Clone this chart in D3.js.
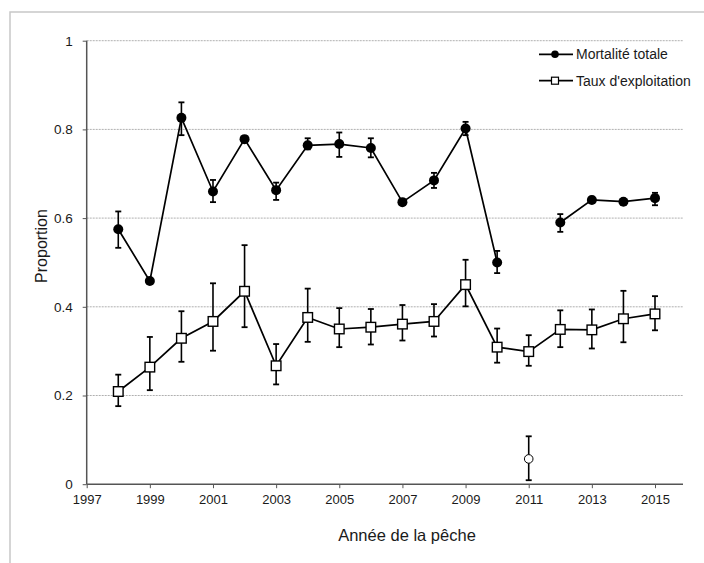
<!DOCTYPE html>
<html><head><meta charset="utf-8">
<script src="https://cdn.jsdelivr.net/npm/d3@7"></script>
<style>html,body{margin:0;padding:0;background:#fff;}svg{display:block;font-family:Arial,"Liberation Sans",sans-serif;}</style>
</head><body><svg id="c" width="704" height="563"></svg>
<script>
const years = [1998,1999,2000,2001,2002,2003,2004,2005,2006,2007,2008,2009,2010,2011,2012,2013,2014,2015];
const mortalite     = [0.575,0.458,0.826,0.660,0.778,0.663,0.764,0.767,0.758,0.636,0.685,0.802,0.500,null,0.590,0.641,0.637,0.645];
const mortaliteLow  = [0.533,0.452,0.787,0.636,0.772,0.641,0.755,0.738,0.737,0.630,0.668,0.787,0.476,null,0.569,0.635,0.632,0.629];
const mortaliteHigh = [0.615,0.464,0.861,0.686,0.784,0.680,0.780,0.793,0.780,0.642,0.702,0.817,0.526,null,0.609,0.648,0.641,0.657];
const exploitation     = [0.209,0.264,0.329,0.367,0.435,0.267,0.376,0.350,0.354,0.361,0.367,0.450,0.309,0.299,0.349,0.348,0.373,0.384];
const exploitationLow  = [0.176,0.212,0.276,0.301,0.354,0.225,0.321,0.309,0.315,0.324,0.333,0.401,0.274,0.267,0.309,0.306,0.320,0.347];
const exploitationHigh = [0.247,0.332,0.390,0.453,0.539,0.316,0.441,0.397,0.395,0.404,0.406,0.506,0.351,0.336,0.392,0.394,0.436,0.424];
const extraYear = [2011], extraValue = [0.057], extraLow = [0.009], extraHigh = [0.108];
const xTicks = [1997,1999,2001,2003,2005,2007,2009,2011,2013,2015];
const yTicks = [0,0.2,0.4,0.6,0.8,1];
const yTickLabels = ["0","0.2","0.4","0.6","0.8","1"];
const legendLabels = ["Mortalité totale","Taux d'exploitation"];

const svg = d3.select("#c");
const x = d3.scaleLinear().domain([1997, 2015]).range([86.7, 655]);
const y = d3.scaleLinear().domain([0, 1]).range([484.2, 40.7]);
const xEnd = 683;

// outer border
svg.append("rect").attr("x",10).attr("y",12).attr("width",720).attr("height",600)
  .attr("fill","none").attr("stroke","#c8c8c8").attr("stroke-width",1.5);

// gridlines
svg.append("g").selectAll("line").data(yTicks.filter(d=>d>0)).join("line")
  .attr("x1",x(1997)).attr("x2",xEnd).attr("y1",d=>y(d)).attr("y2",d=>y(d))
  .attr("stroke","#b0b0b0").attr("stroke-width",1).attr("stroke-dasharray","2,1");

// y axis
const yAxis = d3.axisLeft(y).tickValues(yTicks).tickFormat((d,i)=>yTickLabels[i]).tickSize(4).tickPadding(10);
const gy = svg.append("g").attr("transform",`translate(${x(1997)},0)`).call(yAxis);
gy.select(".domain").remove();
gy.append("line").attr("x1",0).attr("x2",0).attr("y1",y(1)).attr("y2",y(0)).attr("stroke","#555").attr("stroke-width",1.5);
gy.selectAll(".tick line").attr("stroke","#555");
gy.selectAll(".tick text").attr("font-size","13.5px").attr("fill","#1a1a1a").attr("font-family","Arial,'Liberation Sans',sans-serif");

// x axis
const xAxis = d3.axisBottom(x).tickValues(xTicks).tickFormat(d3.format("d")).tickSize(4).tickPadding(7);
const gx = svg.append("g").attr("transform",`translate(0,${y(0)})`).call(xAxis);
gx.select(".domain").remove();
gx.append("line").attr("x1",x(1997)).attr("x2",xEnd).attr("y1",0).attr("y2",0).attr("stroke","#555").attr("stroke-width",1.5);
gx.selectAll(".tick line").attr("stroke","#555");
gx.selectAll(".tick text").attr("font-size","13px").attr("fill","#1a1a1a").attr("font-family","Arial,'Liberation Sans',sans-serif");

// axis titles
svg.append("text").attr("x",407).attr("y",541).attr("text-anchor","middle")
  .attr("font-size","16.5px").attr("fill","#1a1a1a").text("Année de la pêche");
svg.append("text").attr("transform","translate(47,246) rotate(-90)").attr("text-anchor","middle")
  .attr("font-size","16px").attr("fill","#1a1a1a").text("Proportion");

function errorBars(g, xs, lo, hi){
  const idx = xs.map((d,i)=>i).filter(i=>lo[i]!=null);
  g.selectAll(null).data(idx).join("line")
    .attr("x1",i=>x(xs[i])).attr("x2",i=>x(xs[i])).attr("y1",i=>y(lo[i])).attr("y2",i=>y(hi[i]))
    .attr("stroke","#000").attr("stroke-width",1.6);
  [lo,hi].forEach(arr=>{
    g.selectAll(null).data(idx).join("line")
      .attr("x1",i=>x(xs[i])-3).attr("x2",i=>x(xs[i])+3).attr("y1",i=>y(arr[i])).attr("y2",i=>y(arr[i]))
      .attr("stroke","#000").attr("stroke-width",1.8);
  });
}

const line = d3.line().defined(d=>d[1]!=null).x(d=>x(d[0])).y(d=>y(d[1]));

// exploitation series
const gE = svg.append("g");
errorBars(gE, years, exploitationLow, exploitationHigh);
gE.append("path").datum(years.map((yr,i)=>[yr,exploitation[i]])).attr("d",line)
  .attr("fill","none").attr("stroke","#000").attr("stroke-width",1.7);
gE.selectAll("rect").data(years.map((yr,i)=>[yr,exploitation[i]])).join("rect")
  .attr("x",d=>x(d[0])-4.8).attr("y",d=>y(d[1])-4.8).attr("width",9.6).attr("height",9.6)
  .attr("fill","#fff").attr("stroke","#000").attr("stroke-width",1.4);

// mortality series
const gM = svg.append("g");
errorBars(gM, years, mortaliteLow, mortaliteHigh);
gM.append("path").datum(years.map((yr,i)=>[yr,mortalite[i]])).attr("d",line)
  .attr("fill","none").attr("stroke","#000").attr("stroke-width",1.7);
gM.selectAll("circle").data(years.map((yr,i)=>[yr,mortalite[i]]).filter(d=>d[1]!=null)).join("circle")
  .attr("cx",d=>x(d[0])).attr("cy",d=>y(d[1])).attr("r",5).attr("fill","#000");

// extra open point
const gX = svg.append("g");
errorBars(gX, extraYear, extraLow, extraHigh);
gX.selectAll("circle").data(extraYear.map((yr,i)=>[yr,extraValue[i]])).join("circle")
  .attr("cx",d=>x(d[0])).attr("cy",d=>y(d[1])).attr("r",4.3)
  .attr("fill","#fff").attr("stroke","#000").attr("stroke-width",1);

// legend
const lg = svg.append("g");
const rows = [54.3, 80.7];
rows.forEach((ry,i)=>{
  lg.append("line").attr("x1",539).attr("x2",573).attr("y1",ry).attr("y2",ry).attr("stroke","#000").attr("stroke-width",1.7);
  if(i===0){
    lg.append("circle").attr("cx",555).attr("cy",ry).attr("r",3.8).attr("fill","#000");
  } else {
    lg.append("rect").attr("x",551.5).attr("y",ry-3.5).attr("width",7).attr("height",7).attr("fill","#fff").attr("stroke","#000").attr("stroke-width",1.2);
  }
  lg.append("text").attr("x",576).attr("y",ry+5).attr("font-size","14px").attr("fill","#1a1a1a").text(legendLabels[i]);
});
</script></body></html>
